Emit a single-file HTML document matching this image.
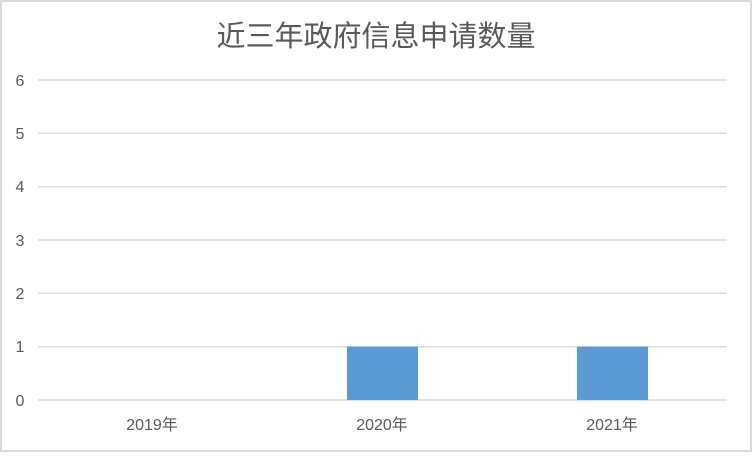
<!DOCTYPE html>
<html><head><meta charset="utf-8"><style>
html,body{margin:0;padding:0;background:#fff;}
body{width:752px;height:452px;overflow:hidden;}
</style></head><body>
<svg width="752" height="452" xmlns="http://www.w3.org/2000/svg" font-family="Liberation Sans, Noto Sans CJK SC, sans-serif">
<rect x="1" y="1" width="750" height="450" fill="#fff" stroke="#d9d9d9" stroke-width="2"/>
<text x="376" y="46" text-anchor="middle" font-size="29" fill="#595959">近三年政府信息申请数量</text>
<g stroke="#d9d9d9" stroke-width="1.5">
<line x1="38" x2="727" y1="80" y2="80"/>
<line x1="38" x2="727" y1="133.3" y2="133.3"/>
<line x1="38" x2="727" y1="186.7" y2="186.7"/>
<line x1="38" x2="727" y1="240" y2="240"/>
<line x1="38" x2="727" y1="293.3" y2="293.3"/>
<line x1="38" x2="727" y1="346.7" y2="346.7"/>
<line x1="38" x2="727" y1="400" y2="400"/>
</g>
<rect x="347" y="346.7" width="71" height="53.3" fill="#5b9bd5"/>
<rect x="577" y="346.7" width="71" height="53.3" fill="#5b9bd5"/>
<g font-size="16" fill="#595959" text-anchor="middle">
<text x="20" y="86">6</text>
<text x="20" y="139">5</text>
<text x="20" y="192">4</text>
<text x="20" y="246">3</text>
<text x="20" y="299">2</text>
<text x="20" y="352">1</text>
<text x="20" y="406">0</text>
<text x="152" y="430">2019年</text>
<text x="382" y="430">2020年</text>
<text x="612" y="430">2021年</text>
</g>
</svg>
</body></html>
